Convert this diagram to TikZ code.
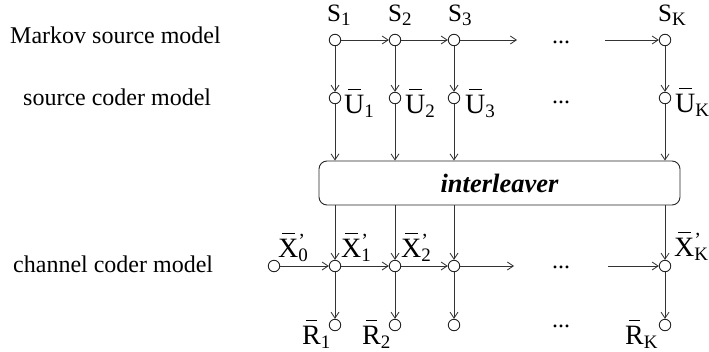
\documentclass[tikz,border=0pt]{standalone}
\usepackage{fontspec}
\setmainfont{Liberation Serif}
\usetikzlibrary{arrows.meta}

% short bar centred over a letter
\newcommand\ob[1]{\setbox0\hbox{#1}\vbox{\offinterlineskip\hbox to\wd0{\hss\vrule width 0.62\wd0 height 0.9pt depth 0pt\hss}\kern 5pt\box0}}
% lowered index
\newcommand\ix[1]{\raisebox{-4pt}{\fontsize{19}{19}\selectfont #1}}
% prime stacked over a lowered index
\newcommand\pix[1]{\rlap{\raisebox{9.5pt}{\fontsize{20}{20}\selectfont '}}\ix{#1}}

\tikzset{
  state/.style={circle, draw=black!85, fill=white, minimum size=11.5pt, inner sep=0pt, line width=0.9pt},
  flow/.style={draw=black!80, line width=0.9pt, -{Straight Barb[length=6pt,width=8pt,line width=0.8pt]}},
  sym/.style={anchor=base west, inner sep=0pt, font=\fontsize{25}{25}\selectfont},
  bsym/.style={anchor=base west, inner sep=0pt, font=\fontsize{28}{28}\selectfont},
  side/.style={anchor=base west, inner sep=0pt, font=\fontsize{24}{24}\selectfont},
  more/.style={anchor=base, inner sep=0pt, font=\fontsize{24}{24}\selectfont},
  box/.style={draw=black!85, line width=0.9pt, rounded corners=8pt}
}

\begin{document}
\begin{tikzpicture}[x=1pt, y=-1pt]
\useasboundingbox (0,0) rectangle (709,351);

% row labels
\node[side] (lm) at (10,43)  {Markov source model};
\node[side] (ls) at (23,105) {source coder model};
\node[side] (lc) at (13,272) {channel coder model};

% interleaver block
\node[box, minimum width=361pt, minimum height=44pt, inner sep=0pt,
      font=\fontsize{26.5}{26.5}\selectfont\bfseries\itshape] (il) at (499.5,183) {interleaver};

% Markov source states
\node[state] (S1) at (335,40) {};
\node[state] (S2) at (395,40) {};
\node[state] (S3) at (454,40) {};
\node[state] (SK) at (665,40) {};
\coordinate (Sa) at (517,40);
\coordinate (Sb) at (605,40);

% source coder outputs
\node[state] (U1) at (335,98) {};
\node[state] (U2) at (395,98) {};
\node[state] (U3) at (454,98) {};
\node[state] (UK) at (665,98) {};

% channel coder states
\node[state] (X0) at (274,266) {};
\node[state] (X1) at (335,266) {};
\node[state] (X2) at (395,266) {};
\node[state] (X3) at (454,266) {};
\node[state] (XK) at (665,266) {};
\coordinate (Xa) at (514,266);
\coordinate (Xb) at (608,266);

% channel outputs
\node[state] (R1) at (335,325) {};
\node[state] (R2) at (395,325) {};
\node[state] (R3) at (454,325) {};
\node[state] (RK) at (665,325) {};

% source chain
\draw[flow] (S1) -- (S2);
\draw[flow] (S2) -- (S3);
\draw[flow] (S3) -- (Sa);
\draw[flow] (Sb) -- (SK);

% channel chain
\draw[flow] (X0) -- (X1);
\draw[flow] (X1) -- (X2);
\draw[flow] (X2) -- (X3);
\draw[flow] (X3) -- (Xa);
\draw[flow] (Xb) -- (XK);

% vertical flows
\foreach \c in {1,2,3,K}{
  \draw[flow] (S\c) -- (U\c);
  \draw[flow] (U\c) -- (U\c |- il.north);
  \draw[flow] (X\c |- il.south) -- (X\c);
  \draw[flow] (X\c) -- (R\c);
}

% state labels
\node[sym] (tS1) at (327,21) {S\ix{1}};
\node[sym] (tS2) at (388,21) {S\ix{2}};
\node[sym] (tS3) at (448,21) {S\ix{3}};
\node[sym] (tSK) at (658,21) {S\ix{K}};

\node[bsym] (tU1) at (344,113) {\ob{U}\ix{1}};
\node[bsym] (tU2) at (405,113) {\ob{U}\ix{2}};
\node[bsym] (tU3) at (465,113) {\ob{U}\ix{3}};
\node[bsym] (tUK) at (675,112) {\ob{U}\ix{K}};

\node[bsym] (tX0) at (278,257) {\ob{X}\pix{0}};
\node[bsym] (tX1) at (341,257) {\ob{X}\pix{1}};
\node[bsym] (tX2) at (401,257) {\ob{X}\pix{2}};
\node[bsym] (tXK) at (674,256) {\ob{X}\pix{K}};

\node[bsym] (tR1) at (302,344) {\ob{R}\ix{1}};
\node[bsym] (tR2) at (362,344) {\ob{R}\ix{2}};
\node[bsym] (tRK) at (625,344) {\ob{R}\ix{K}};

% ellipses
\node[more] (d1) at (561,43)  {...};
\node[more] (d2) at (561,103) {...};
\node[more] (d3) at (561,268) {...};
\node[more] (d4) at (561,327) {...};
\end{tikzpicture}
\end{document}
